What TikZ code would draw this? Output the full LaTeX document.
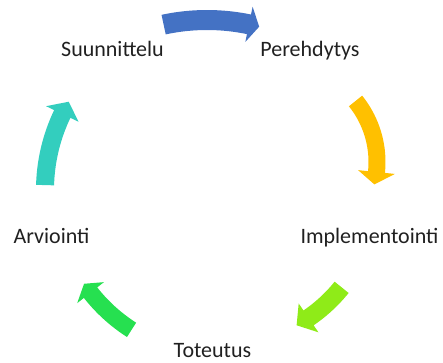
\documentclass[tikz,border=0pt]{standalone}
\usepackage{fontspec}
\setmainfont{Carlito}
\definecolor{cblue}{RGB}{68,114,196}
\definecolor{cyellow}{RGB}{255,192,0}
\definecolor{clime}{RGB}{143,235,24}
\definecolor{cgreen}{RGB}{38,224,80}
\definecolor{cteal}{RGB}{51,206,190}
\definecolor{ctext}{RGB}{32,32,32}
% #1 colour, #2 cx, #3 cy, #4 radius, #5 tail angle, #6 head-base angle, #7 tip angle, #8 shaft width, #9 head width
\newcommand{\cyclearrow}[9]{%
  \fill[#1] plot[domain=#5:#6,samples=30] ({#2+(#4+#8/2)*cos(\x)},{#3+(#4+#8/2)*sin(\x)})
    -- ({#2+(#4+#9/2)*cos(#6)},{#3+(#4+#9/2)*sin(#6)})
    -- ({#2+#4*cos(#7)},{#3+#4*sin(#7)})
    -- ({#2+(#4-#9/2)*cos(#6)},{#3+(#4-#9/2)*sin(#6)})
    -- plot[domain=#6:#5,samples=30] ({#2+(#4-#8/2)*cos(\x)},{#3+(#4-#8/2)*sin(\x)})
    -- cycle;}
\tikzset{lbl/.style={inner sep=0pt,anchor=base,text=ctext,font=\fontsize{16.5pt}{19pt}\selectfont}}
\begin{document}
\begin{tikzpicture}[x=0.75pt,y=0.75pt]
\useasboundingbox (0,0) rectangle (443,362);
\cyclearrow{cblue}{207}{135}{207}{102.1}{78.3}{75.4}{20}{36}
\cyclearrow{cyellow}{279.5}{200}{97.5}{38.75}{-5.9}{-13.3}{17}{37}
\cyclearrow{clime}{221}{172}{155}{-38.9}{-55.6}{-60.8}{18}{35}
\cyclearrow{cgreen}{221}{172}{166}{237.4}{218.2}{214.4}{17}{34}
\cyclearrow{cteal}{221}{172}{176}{178.4}{154.4}{149.9}{18}{36}
\node[lbl] (suun) at (112.5,305.3) {Suunnittelu};
\node[lbl] (pere) at (310,305.3) {Perehdytys};
\node[lbl] (arvi) at (51.5,119) {Arviointi};
\node[lbl] (impl) at (369.5,119) {Implementointi};
\node[lbl] (tote) at (212.5,5) {Toteutus};
\end{tikzpicture}
\end{document}
